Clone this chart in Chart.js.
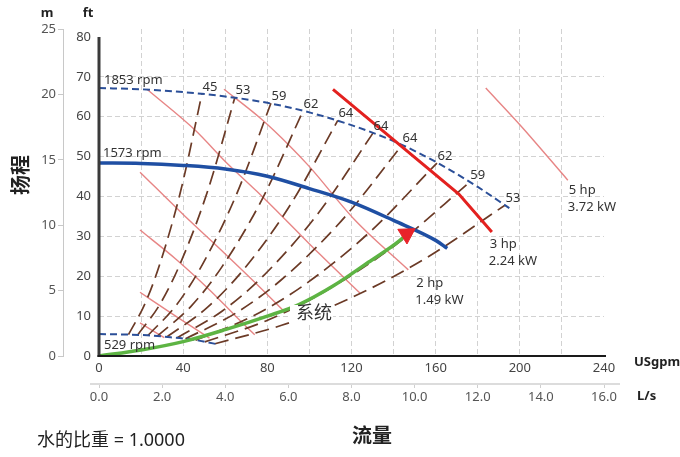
<!DOCTYPE html>
<html>
<head>
<meta charset="utf-8">
<script src="https://cdn.jsdelivr.net/npm/chart.js@4.4.1/dist/chart.umd.min.js"></script>
<style>
  html, body { margin: 0; padding: 0; background: #fff; }
  #wrap { width: 680px; height: 457px; }
</style>
</head>
<body>
<div id="wrap"><canvas id="c" width="680" height="457"></canvas></div>
<script>
// ---- Pump performance data: flow in USgpm, head in ft ----

// Speed curves
const curve1853 = [[0,67.2],[20,66.9],[40,66.2],[60,65.1],[80,63.5],[100,61.1],[120,57.9],[140,53.9],[160,48.7],[180,42.4],[195,37.1]];
const curve1573 = [[0,48.4],[20,48.3],[40,47.8],[60,46.9],[80,45.1],[100,42.0],[120,38.6],[140,34.0],[160,29.0],[165.5,27.0]];
const curve529  = [[0,5.5],[11,5.4],[23,5.2],[34,4.7],[40,4.4],[46,4.0],[51,3.5],[55.7,3.0]];

// Iso-efficiency lines (from 529 rpm up to 1853 rpm) and their % values
const effLabels = ['45','53','59','62','64','64','64','62','59','53'];
const eff1  = [[14.0,5.35],[22.0,13.3],[29.3,23.7],[39.1,42.0],[48.9,65.7]];
const eff2  = [[18.4,5.29],[29.1,13.1],[38.8,23.4],[51.7,41.5],[64.6,64.9]];
const eff3  = [[23.3,5.17],[36.8,12.8],[49.0,22.8],[65.4,40.6],[81.7,63.4]];
const eff4  = [[27.7,5.00],[43.6,12.4],[58.1,22.1],[77.5,39.3],[96.9,61.4]];
const eff5  = [[32.4,4.82],[51.1,12.0],[68.1,21.3],[90.8,37.8],[113.5,59.1]];
const eff6  = [[37.2,4.56],[58.6,11.3],[78.1,20.1],[104.2,35.8],[130.2,55.9]];
const eff7  = [[41.1,4.31],[64.8,10.7],[86.4,19.0],[115.2,33.9],[144.0,52.9]];
const eff8  = [[45.9,3.94],[72.3,9.8],[96.4,17.4],[128.5,31.0],[160.6,48.4]];
const eff9  = [[50.3,3.55],[79.3,8.8],[105.7,15.7],[141.0,27.9],[176.2,43.6]];
const eff10 = [[55.1,3.08],[86.8,7.7],[115.7,13.6],[154.3,24.2],[192.9,37.8]];
const effLines = [eff1, eff2, eff3, eff4, eff5, eff6, eff7, eff8, eff9, eff10];

// Constant power lines
const powerF   = [[19.5,8.3],[31,4.6]];
const powerE   = [[19.5,16.0],[35,10.5],[52.5,4.5]];
const powerD   = [[19.5,31.6],[37,24.1],[52.7,16.5],[64,10.5],[74,5.3]];
const powerC   = [[19.5,46.1],[40,35.5],[60,25.6],[75,18.0],[87.4,11.5]];
const powerA   = [[22.8,66.9],[46,56.5],[60,48.8],[75,41.3],[89,34.0],[105,25.5],[124,15.8]];
const power2hp = [[59.4,66.9],[77,59.5],[91,52.5],[100,47.5],[121.6,34.1],[147,21.6]];
const power3hp = [[111.2,66.9],[171,40.6],[186.7,31.1]];
const power5hp = [[183.8,67.2],[200,58.0],[222.8,44.1]];
const powerLabels = { p2: ['2 hp','1.49 kW'], p3: ['3 hp','2.24 kW'], p5: ['5 hp','3.72 kW'] };

// System curve
const systemCurve = [[0,0],[20,1.5],[40,3.6],[60,6.6],[80,10.0],[95,12.9],[112,17.8],[128,23.5],[143,29.0],[146.2,30.6]];

// Axis ranges and ticks
const gpmMax = 240, gpmStep = 20, gpmLabelStep = 40;
const ftMax = 80, ftStep = 10;
const mMax = 25, mStep = 5;
const lsMax = 16, lsStep = 2;
const FT_PER_M = 3.28084;

const FONT = "'Noto Sans', 'Noto Sans CJK SC', sans-serif";
Chart.defaults.font.family = FONT;

const xy = a => a.map(p => ({ x: p[0], y: p[1] }));
const datasets = [];
function addLine(label, data, style, order) {
  datasets.push(Object.assign({
    label, data: xy(data), order,
    pointRadius: 0, fill: false, cubicInterpolationMode: 'monotone',
    xAxisID: 'x', yAxisID: 'y', borderCapStyle: 'butt'
  }, style));
}

const pinkStyle = { borderColor: 'rgba(228,120,120,0.9)', borderWidth: 1.4 };
addLine('pF', powerF, pinkStyle, 7);
addLine('pE', powerE, pinkStyle, 7);
addLine('pD', powerD, pinkStyle, 7);
addLine('pC', powerC, pinkStyle, 7);
addLine('pA', powerA, pinkStyle, 7);
addLine('p2', power2hp, pinkStyle, 7);
addLine('p5', power5hp, pinkStyle, 7);

effLines.forEach((d, i) => addLine('eff' + i, d, { borderColor: '#6b3a26', borderWidth: 1.7, borderDash: [14, 7] }, 6));

const dashBlue = { borderColor: '#2b4f98', borderWidth: 2, borderDash: [7, 4] };
addLine('n1853', curve1853, dashBlue, 5);
addLine('n529', curve529, dashBlue, 5);
addLine('n1573', curve1573, { borderColor: '#1f4fa3', borderWidth: 3.5 }, 4);
addLine('p3', power3hp, { borderColor: '#e3211f', borderWidth: 3, cubicInterpolationMode: 'default', tension: 0 }, 3);
addLine('system', systemCurve, { borderColor: '#5db443', borderWidth: 3.5 }, 2);

// arrow head at the end of the system curve
datasets.push({
  label: 'arrow', data: xy([systemCurve[systemCurve.length - 1]]), order: 1,
  showLine: false, pointStyle: 'triangle', pointRadius: 10, rotation: 58,
  pointBackgroundColor: '#e8232a', pointBorderColor: '#e8232a', pointBorderWidth: 1,
  xAxisID: 'x', yAxisID: 'y'
});

const gridDash = [5, 3];
const gridColor = '#d2d2d2';

const annotations = {
  id: 'annotations',
  afterDatasetsDraw(chart) {
    const ctx = chart.ctx;
    const pts = label => chart.getDatasetMeta(chart.data.datasets.findIndex(d => d.label === label)).data;
    const first = l => pts(l)[0];
    const last = l => { const p = pts(l); return p[p.length - 1]; };
    ctx.save();
    ctx.fillStyle = '#333';
    ctx.font = `13px ${FONT}`;
    ctx.textBaseline = 'middle';

    // efficiency values at the top of each line
    ctx.textAlign = 'center';
    effLabels.forEach((t, i) => { const p = last('eff' + i); ctx.fillText(t, p.x + 8, p.y - 7); });

    // speed labels
    ctx.textAlign = 'left';
    let p = first('n1853'); ctx.fillText('1853 rpm', p.x + 5, p.y - 8);
    p = first('n1573'); ctx.fillText('1573 rpm', p.x + 4, p.y - 10);
    p = first('n529'); ctx.fillText('529 rpm', p.x + 5, p.y + 11);

    // power labels
    const offs = { p2: [8, 13], p3: [-2, 12], p5: [1, 10] };
    Object.keys(powerLabels).forEach(k => {
      const e = last(k), o = offs[k];
      ctx.fillText(powerLabels[k][0], e.x + o[0], e.y + o[1]);
      ctx.fillText(powerLabels[k][1], e.x + o[0] - 1, e.y + o[1] + 17);
    });

    // system curve label
    ctx.fillStyle = '#fff';
    ctx.fillRect(290, 305, 43, 19);
    ctx.fillStyle = '#333';
    ctx.font = `18px ${FONT}`;
    ctx.fillText('系统', 296, 314);
    ctx.restore();
  },
  afterDraw(chart) {
    const { ctx, chartArea: a, scales } = chart;
    const y = scales.y;
    ctx.save();
    // head axis (ft)
    ctx.strokeStyle = '#3a3a3a'; ctx.lineWidth = 3;
    ctx.beginPath(); ctx.moveTo(a.left, y.getPixelForValue(ftMax)); ctx.lineTo(a.left, a.bottom + 1); ctx.stroke();
    // flow axis (USgpm)
    ctx.strokeStyle = '#1a1a1a'; ctx.lineWidth = 2;
    ctx.beginPath(); ctx.moveTo(a.left - 1.5, a.bottom); ctx.lineTo(a.right + 2, a.bottom); ctx.stroke();
    // flow axis (L/s)
    ctx.strokeStyle = '#dcdcdc'; ctx.lineWidth = 2;
    ctx.beginPath(); ctx.moveTo(90, scales.xLs.top); ctx.lineTo(620, scales.xLs.top); ctx.stroke();

    // axis titles
    ctx.fillStyle = '#222';
    ctx.textBaseline = 'middle';
    ctx.textAlign = 'center';
    ctx.font = `bold 13px ${FONT}`;
    ctx.fillText('m', 47, 13);
    ctx.fillText('ft', 88, 13);
    ctx.textAlign = 'left';
    ctx.fillText('USgpm', 634, 362);
    ctx.fillText('L/s', 637, 396);
    ctx.textAlign = 'center';
    ctx.font = `bold 20px ${FONT}`;
    ctx.fillText('流量', 372, 437);
    ctx.save();
    ctx.translate(22, 175);
    ctx.rotate(-Math.PI / 2);
    ctx.fillText('扬程', 0, 0);
    ctx.restore();
    ctx.textAlign = 'left';
    ctx.font = `18px ${FONT}`;
    ctx.fillText('水的比重 = 1.0000', 37, 441);
    ctx.restore();
  }
};

new Chart(document.getElementById('c'), {
  type: 'line',
  data: { datasets },
  options: {
    responsive: false,
    animation: false,
    devicePixelRatio: 1,
    layout: { padding: { top: 29, right: 76, bottom: 48, left: 0 } },
    plugins: { legend: { display: false }, tooltip: { enabled: false } },
    scales: {
      x: {
        type: 'linear', position: 'bottom', weight: 1, min: 0, max: gpmMax,
        ticks: {
          stepSize: gpmStep, autoSkip: false, maxRotation: 0, padding: 4,
          color: '#444', font: { size: 13 },
          callback: v => (v % gpmLabelStep === 0 ? String(v) : '')
        },
        grid: {
          drawTicks: false, lineWidth: 1,
          color: c => (c.tick && (c.tick.value === 0 || c.tick.value === gpmMax) ? 'rgba(0,0,0,0)' : gridColor)
        },
        border: { display: false, dash: gridDash },
        afterFit: s => { s.height = 28; }
      },
      xLs: {
        type: 'linear', position: 'bottom', weight: 2, min: 0, max: lsMax,
        ticks: { stepSize: lsStep, autoSkip: false, maxRotation: 0, padding: 1, color: '#555', font: { size: 13 },
          callback: v => v.toFixed(1) },
        grid: { drawOnChartArea: false, tickLength: 4, color: '#cfcfcf' },
        border: { display: false },
        afterFit: s => { s.height = 25; }
      },
      y: {
        type: 'linear', position: 'left', weight: 1, min: 0, max: mMax * FT_PER_M,
        ticks: { stepSize: ftStep, includeBounds: false, padding: 8, color: '#444', font: { size: 13 } },
        grid: {
          drawTicks: false, lineWidth: 1,
          color: c => (c.tick && (c.tick.value === 0 || c.tick.value === ftMax) ? 'rgba(0,0,0,0)' : gridColor)
        },
        border: { display: false, dash: gridDash },
        afterFit: s => { s.width = 36; }
      },
      yM: {
        type: 'linear', position: 'left', weight: 2, min: 0, max: mMax,
        ticks: { stepSize: mStep, padding: 2, color: '#555', font: { size: 13 } },
        grid: { drawOnChartArea: false, tickLength: 5, color: '#c8c8c8' },
        border: { color: '#c8c8c8', width: 1 },
        afterFit: s => { s.width = 63; }
      }
    }
  },
  plugins: [annotations]
});
</script>
</body>
</html>
